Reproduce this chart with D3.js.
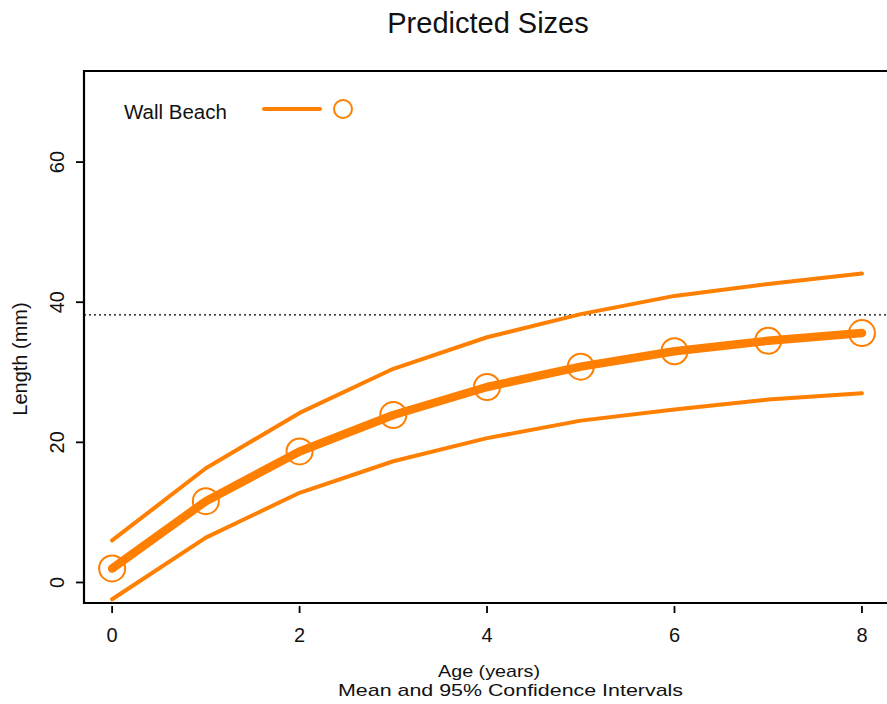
<!DOCTYPE html>
<html>
<head>
<meta charset="utf-8">
<script src="https://cdn.jsdelivr.net/npm/d3@7"></script>
<style>
  html, body { margin: 0; padding: 0; background: #fff; }
  svg { display: block; }
  text { fill: #111; font-family: 'Liberation Sans', Arial, sans-serif; }
</style>
</head>
<body>
<svg id="chart" width="887" height="704"></svg>
<script>
// Predicted length by age: mean and 95% confidence bounds
const ages = [0, 1, 2, 3, 4, 5, 6, 7, 8];
const meanLength = [2.0, 11.6, 18.7, 23.9, 27.9, 30.8, 33.0, 34.5, 35.6];
const upperCI = [6.0, 16.3, 24.2, 30.5, 35.0, 38.3, 40.9, 42.6, 44.1];
const lowerCI = [-2.4, 6.4, 12.8, 17.3, 20.6, 23.1, 24.7, 26.1, 27.0];
const referenceLength = 38.2;
const xTicks = [0, 2, 4, 6, 8];
const yTicks = [0, 20, 40, 60];
const seriesName = "Wall Beach";
const orange = "#FF7F00";

const svg = d3.select("#chart");
const margin = { left: 84, top: 71, right: -4, bottom: 101 };
const W = 887, H = 704;
const plotBottom = H - margin.bottom;

const x = d3.scaleLinear().domain([-0.3, 8.31]).range([margin.left, W - margin.right]);
const y = d3.scaleLinear().domain([-2.93, 73.0]).range([plotBottom, margin.top]);

// Title
svg.append("text")
  .attr("x", 488).attr("y", 33)
  .attr("text-anchor", "middle")
  .style("font-size", "29px")
  .text("Predicted Sizes");

// Frame (right side runs off the canvas)
const g = svg.append("g");
g.append("path")
  .attr("d", `M${W + 10},${margin.top} H${margin.left} V${plotBottom} H${W + 10}`)
  .attr("fill", "none").attr("stroke", "#000").attr("stroke-width", 2.2);

// Y axis ticks and rotated labels
const yAxis = g.append("g");
yTicks.forEach(t => {
  yAxis.append("line")
    .attr("x1", margin.left - 8).attr("x2", margin.left)
    .attr("y1", y(t)).attr("y2", y(t))
    .attr("stroke", "#000").attr("stroke-width", 1.8);
  yAxis.append("text")
    .attr("transform", `translate(64,${y(t)}) rotate(-90)`)
    .attr("text-anchor", "middle")
    .style("font-size", "20px")
    .text(t);
});
svg.append("text")
  .attr("transform", `translate(27,359) rotate(-90)`)
  .attr("text-anchor", "middle")
  .style("font-size", "20px")
  .text("Length (mm)");

// X axis ticks and labels
const xAxis = g.append("g");
xTicks.forEach(t => {
  xAxis.append("line")
    .attr("x1", x(t)).attr("x2", x(t))
    .attr("y1", plotBottom + 3).attr("y2", plotBottom + 10)
    .attr("stroke", "#000").attr("stroke-width", 1.8);
  xAxis.append("text")
    .attr("x", x(t)).attr("y", 642)
    .attr("text-anchor", "middle")
    .style("font-size", "20px")
    .text(t);
});
// Axis title and subtitle in a tall, tight setting
svg.append("text")
  .attr("x", 438).attr("y", 677)
  .attr("textLength", 102).attr("lengthAdjust", "spacingAndGlyphs")
  .style("font-size", "17px")
  .text("Age (years)");
svg.append("text")
  .attr("x", 338).attr("y", 696)
  .attr("textLength", 345).attr("lengthAdjust", "spacingAndGlyphs")
  .style("font-size", "17px")
  .text("Mean and 95% Confidence Intervals");

// Reference length (dotted)
g.append("line")
  .attr("x1", margin.left).attr("x2", W)
  .attr("y1", y(referenceLength)).attr("y2", y(referenceLength))
  .attr("stroke", "#000").attr("stroke-width", 1.3)
  .attr("stroke-dasharray", "2,3");

const line = d3.line().x((d, i) => x(ages[i])).y(d => y(d));

// Confidence bounds
[upperCI, lowerCI].forEach(arr => {
  g.append("path")
    .attr("d", line(arr))
    .attr("fill", "none").attr("stroke", orange)
    .attr("stroke-width", 4).attr("stroke-linecap", "round").attr("stroke-linejoin", "round");
});

// Mean line
g.append("path")
  .attr("d", line(meanLength))
  .attr("fill", "none").attr("stroke", orange)
  .attr("stroke-width", 8.5).attr("stroke-linecap", "round").attr("stroke-linejoin", "round");

// Mean markers
g.selectAll("circle.pt")
  .data(meanLength)
  .join("circle")
  .attr("class", "pt")
  .attr("cx", (d, i) => x(ages[i]))
  .attr("cy", d => y(d))
  .attr("r", 13)
  .attr("fill", "none").attr("stroke", orange).attr("stroke-width", 2);

// Legend
const lg = svg.append("g");
lg.append("text")
  .attr("x", 124).attr("y", 119)
  .style("font-size", "20.5px")
  .text(seriesName);
lg.append("line")
  .attr("x1", 264).attr("x2", 320).attr("y1", 109).attr("y2", 109)
  .attr("stroke", orange).attr("stroke-width", 4).attr("stroke-linecap", "round");
lg.append("circle")
  .attr("cx", 343).attr("cy", 109).attr("r", 9)
  .attr("fill", "none").attr("stroke", orange).attr("stroke-width", 2);
</script>
</body>
</html>
